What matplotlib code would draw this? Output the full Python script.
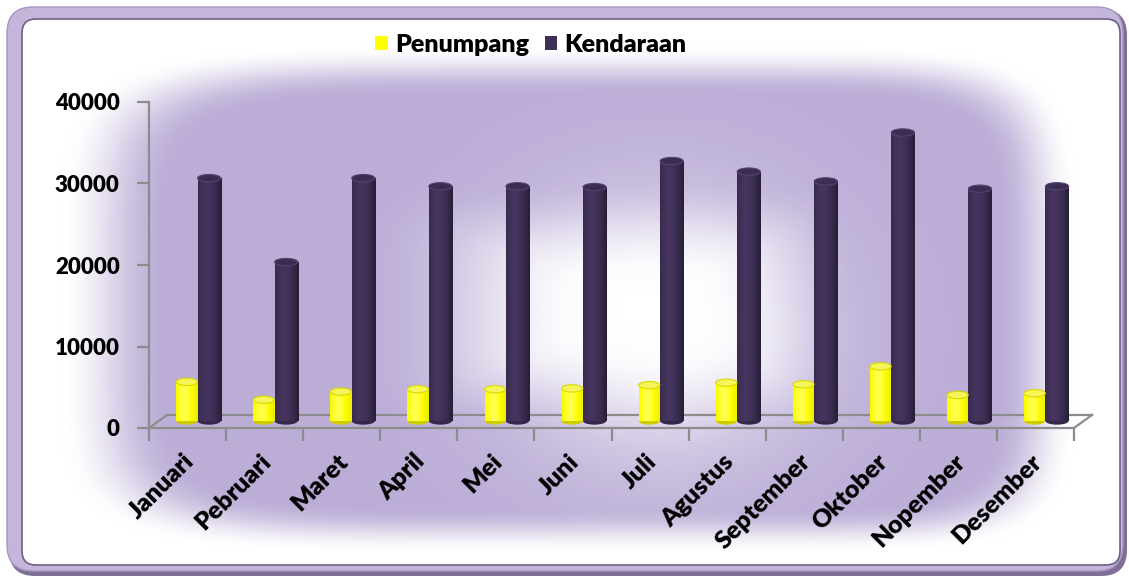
import numpy as np
import matplotlib
matplotlib.use('Agg')
import matplotlib.pyplot as plt
from matplotlib.patches import FancyBboxPatch, Ellipse, Patch
from matplotlib.lines import Line2D
from matplotlib.transforms import ScaledTranslation, IdentityTransform

# ---------------- data ----------------
months = ['Januari', 'Pebruari', 'Maret', 'April', 'Mei', 'Juni', 'Juli',
          'Agustus', 'September', 'Oktober', 'Nopember', 'Desember']
penumpang = [4800, 2600, 3600, 3900, 3900, 4000, 4400, 4700, 4500, 6700, 3200, 3400]
kendaraan = [29800, 19500, 29800, 28800, 28800, 28700, 31900, 30600, 29400, 35400, 28500, 28800]
series_names = ['Penumpang', 'Kendaraan']
yticks = [0, 10000, 20000, 30000, 40000]

# ---------------- style ----------------
plt.rcParams['font.family'] = ['Lato', 'DejaVu Sans']
plt.rcParams['font.weight'] = 'bold'
W, H, DPI = 1129, 578, 100
YELLOW = np.array([1.0, 1.0, 0.0])
DARK = np.array([0.245, 0.185, 0.335])
GREY = '#8c8c8c'
LBL_W = 'heavy'

fig = plt.figure(figsize=(W / DPI, H / DPI), dpi=DPI)
fig.patch.set_facecolor('white')

# ---------------- background frame ----------------
bg = fig.add_axes([0, 0, 1, 1], zorder=-5)
bg.set_xlim(0, W); bg.set_ylim(H, 0); bg.axis('off')

shadow = FancyBboxPatch((9, 9), 1118, 567, boxstyle='round,pad=0,rounding_size=26',
                        fc='#7f6f98', ec='none', zorder=0.1)
bg.add_patch(shadow)
outer = FancyBboxPatch((7, 7), 1116, 564, boxstyle='round,pad=0,rounding_size=26',
                       fc='#c4b5da', ec='#a795c0', lw=1.0, zorder=0.2)
bg.add_patch(outer)
inner = FancyBboxPatch((22, 19), 1098, 546, boxstyle='round,pad=0,rounding_size=14',
                       fc='none', ec='#6f5f88', lw=1.2, zorder=1)
bg.add_patch(inner)

yy, xx = np.mgrid[0:H, 0:W] + 0.5
cx, cy = 650.0, 310.0
dx = np.where(xx < cx, (cx - xx) / 636.0, (xx - cx) / 459.0)
dy = np.where(yy < cy, (cy - yy) / 284.0, (yy - cy) / 261.0)
p = 6.0
r = (dx ** p + dy ** p) ** (1 / p)

def smooth(a, b, x):
    t = np.clip((x - a) / (b - a), 0, 1)
    return t * t * (3 - 2 * t)

ring = smooth(0.05, 0.45, r) * (1 - smooth(0.76, 0.93, r))
glow = np.exp(-((xx - 660) / 140.0) ** 2 - ((yy - 330) / 120.0) ** 2)
f = ring * (1 - 0.9 * glow) * 0.95
lav = np.array([0.725, 0.665, 0.835])
img = np.ones((H, W, 3)) * (1 - f[..., None]) + lav * f[..., None]
im = bg.imshow(img, extent=[0, W, H, 0], aspect='auto', zorder=0.5)
im.set_clip_path(inner)

# ---------------- main axes ----------------
x_left, x_right, y_top, y_bot = 149, 1074, 102, 428
ax = fig.add_axes([x_left / W, (H - y_bot) / H, (x_right - x_left) / W, (y_bot - y_top) / H])
ax.patch.set_alpha(0)
ax.set_xlim(-0.5, 11.5)
ax.set_ylim(0, 40000)
for s in ['top', 'right']:
    ax.spines[s].set_visible(False)
for s in ['left', 'bottom']:
    ax.spines[s].set_color(GREY)
    ax.spines[s].set_linewidth(1.6)

ax.set_yticks(yticks)
ax.set_yticklabels([str(v) for v in yticks], fontsize=16, fontweight=LBL_W)
ax.tick_params(axis='y', length=9, width=1.6, color=GREY, pad=12)

xpos = np.arange(len(months))
ax.set_xticks(np.arange(len(months) + 1) - 0.5)
ax.set_xticklabels([])
ax.tick_params(axis='x', which='major', length=9, width=1.6, color=GREY)
ax.set_xticks(xpos, minor=True)
ax.set_xticklabels(months, minor=True, rotation=45, ha='right', va='top',
                   rotation_mode='anchor', fontsize=18, fontweight=LBL_W)
ax.tick_params(axis='x', which='minor', length=0, pad=16)
shift = ScaledTranslation(-5 / DPI, 0, fig.dpi_scale_trans)
for lab in ax.get_xticklabels(minor=True):
    lab.set_transform(lab.get_transform() + shift)

# 3D floor
fig.canvas.draw()
back = ScaledTranslation(18 / DPI, 13 / DPI, fig.dpi_scale_trans)
ax.plot([-0.5, 11.5], [0, 0], transform=ax.transData + back, color=GREY, lw=1.6,
        clip_on=False, zorder=1)
for xe in (-0.5, 11.5):
    px, py = ax.transData.transform((xe, 0))
    fig.add_artist(Line2D([px, px + 18], [py, py + 13], transform=IdentityTransform(),
                          color=GREY, lw=1.6))

# ---------------- cylinders ----------------
bar_tr = ax.transData + ScaledTranslation(0, 7 / DPI, fig.dpi_scale_trans)
t = np.linspace(0, 1, 64)
inten = 0.74 + 0.36 * np.cos((t - 0.38) * np.pi * 0.95)

def grad(base, yellow=False):
    if yellow:
        c = np.clip(base[None, :] * (0.8 + 0.2 * np.clip(inten, 0, 1.1)[:, None]), 0, 1)
        c[:, 2] = np.clip((inten - 0.95) * 2.0, 0, 0.35)
    else:
        c = np.clip(base[None, :] * inten[:, None], 0, 1)
    return c[None, :, :]

ell_h = 900
series = [(penumpang, -0.01, 0.275, YELLOW, True),
          (kendaraan, 0.28, 0.30, DARK, False)]
for vals, off, w, base, is_y in series:
    bars = ax.bar(xpos + off, vals, width=w, color=base, linewidth=0, zorder=3)
    g = grad(base, is_y)
    for b, v, xc in zip(bars, vals, xpos + off):
        b.set_transform(bar_tr)
        x0 = xc - w / 2
        eb = Ellipse((xc, 0), w, ell_h, transform=bar_tr, zorder=2.9,
                     fc=base * (0.8 if is_y else 0.85), ec='none')
        ax.add_patch(eb)
        im_b = ax.imshow(g, extent=[x0, x0 + w, 0, v], aspect='auto',
                         transform=bar_tr, zorder=3.1, interpolation='bilinear')
        im_b.set_clip_path(b)
        top_fc = np.array([0.96, 0.96, 0.35]) if is_y else base * 0.95
        top_ec = np.array([0.85, 0.85, 0.0]) if is_y else np.array([0.33, 0.26, 0.44])
        et = Ellipse((xc, v), w, ell_h, transform=bar_tr, zorder=3.3,
                     fc=top_fc, ec=top_ec, lw=0.8)
        ax.add_patch(et)

ax.set_xlim(-0.5, 11.5)
ax.set_ylim(0, 40000)

# ---------------- legend ----------------
handles = [Patch(fc=YELLOW, ec='none'), Patch(fc=DARK, ec='none')]
fig.legend(handles, series_names, loc='center', bbox_to_anchor=(531 / W, 1 - 45 / H),
           ncol=2, frameon=False,
           prop={'family': ['Lato', 'DejaVu Sans'], 'weight': LBL_W, 'size': 18},
           handlelength=0.5, handleheight=0.5, handletextpad=0.3, columnspacing=0.6)

fig.savefig('out.png', dpi=DPI)
